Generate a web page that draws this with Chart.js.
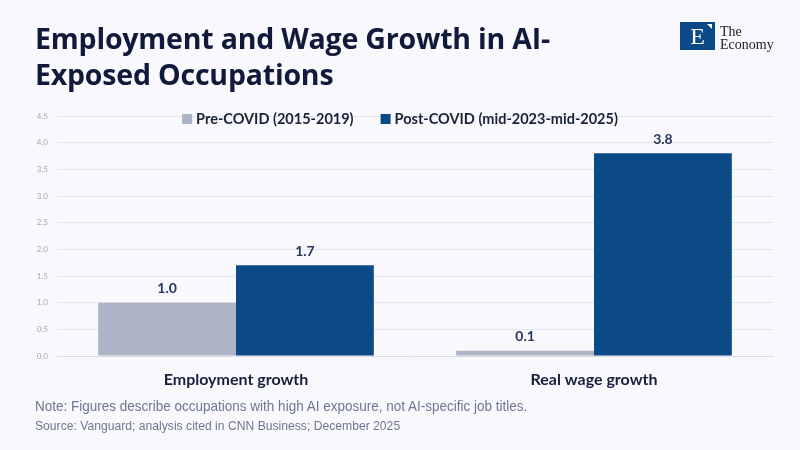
<!DOCTYPE html>
<html>
<head>
<meta charset="utf-8">
<script src="https://cdn.jsdelivr.net/npm/chart.js@4.4.1/dist/chart.umd.min.js"></script>
<style>
  html, body { margin: 0; padding: 0; background: #f8f8fd; }
  #wrap { position: relative; width: 800px; height: 450px; overflow: hidden; background: #f8f8fd; }
  #grafica { position: absolute; left: 0; top: 0; }
  .titulo { position: absolute; left: 35px; top: 20px; font-family: "Open Sans", sans-serif; font-weight: 700;
            font-size: 28.5px; line-height: 36px; color: #111a3a; letter-spacing: -0.2px; }
  .logo { position: absolute; left: 680px; top: 22px; width: 35px; height: 28px; background: #0c4a87; }
  .logo span { position: absolute; left: 0; top: 0; width: 35px; text-align: center; font-family: "Liberation Serif", serif;
               color: #fff; font-size: 24px; line-height: 29px; }
  .logo i { position: absolute; right: 3px; top: 2px; width: 0; height: 0; border-left: 5px solid transparent;
            border-top: 5px solid #fff; }
  .marca { position: absolute; left: 720px; top: 25px; font-family: "Liberation Serif", serif; color: #222;
           font-size: 14px; line-height: 13px; }
  .nota, .fuente { position: absolute; left: 35px; font-family: "Liberation Sans", sans-serif; color: #6e7792;
                   transform: scaleX(0.9); transform-origin: left top; white-space: nowrap; }
  .nota { top: 397px; font-size: 15px; }
  .fuente { top: 418px; font-size: 13.5px; }
</style>
</head>
<body>
<div id="wrap">
  <canvas id="grafica" width="800" height="450"></canvas>
  <div class="titulo">Employment and Wage Growth in AI-<br>Exposed Occupations</div>
  <div class="logo"><span>E</span><i></i></div>
  <div class="marca">The<br>Economy</div>
  <div class="nota">Note: Figures describe occupations with high AI exposure, not AI-specific job titles.</div>
  <div class="fuente">Source: Vanguard; analysis cited in CNN Business; December 2025</div>
</div>
<script>
// datos
const categorias = ['Employment growth', 'Real wage growth'];
const preCovid = [1.0, 0.1];
const postCovid = [1.7, 3.8];
const etiquetasSeries = ['Pre-COVID (2015-2019)', 'Post-COVID (mid-2023-mid-2025)'];
const ticksY = [0, 0.5, 1, 1.5, 2, 2.5, 3, 3.5, 4, 4.5];

// etiquetas de valor encima de las barras
const etiquetasValor = {
    id: 'etiquetasValor',
    afterDatasetsDraw(chart) {
        const ctx = chart.ctx;
        ctx.save();
        ctx.font = 'bold 14px Lato, sans-serif';
        ctx.fillStyle = '#26355a';
        ctx.textAlign = 'center';
        ctx.textBaseline = 'middle';
        chart.data.datasets.forEach((ds, i) => {
            chart.getDatasetMeta(i).data.forEach((bar, j) => {
                ctx.fillText(ds.data[j].toFixed(1), bar.x, bar.y - 14);
            });
        });
        ctx.restore();
    }
};

// leyenda en una fila, dentro del area de la grafica
const leyendaFila = {
    id: 'leyendaFila',
    afterDatasetsDraw(chart) {
        const ctx = chart.ctx;
        const caja = 10, hueco = 4, separacion = 27;
        ctx.save();
        ctx.font = 'bold 14.5px Lato, sans-serif';
        ctx.textBaseline = 'middle';
        ctx.textAlign = 'left';
        const anchos = chart.data.datasets.map(ds => ctx.measureText(ds.label).width);
        const total = anchos.reduce((a, b) => a + b, 0) + chart.data.datasets.length * (caja + hueco) + separacion;
        let x = chart.width / 2 - total / 2;
        const y = chart.chartArea.top + 3;
        chart.data.datasets.forEach((ds, i) => {
            ctx.fillStyle = ds.backgroundColor;
            ctx.fillRect(x, y - caja / 2, caja, caja);
            x += caja + hueco;
            ctx.fillStyle = '#1a2238';
            ctx.fillText(ds.label, x, y);
            x += anchos[i] + separacion;
        });
        ctx.restore();
    }
};

const ctx = document.getElementById('grafica').getContext('2d');
new Chart(ctx, {
    type: 'bar',
    data: {
        labels: categorias,
        datasets: [
            {
                label: etiquetasSeries[0],
                data: preCovid,
                backgroundColor: '#adb4c6',
                categoryPercentage: 0.77,
                barPercentage: 1.0
            },
            {
                label: etiquetasSeries[1],
                data: postCovid,
                backgroundColor: '#0c4a87',
                categoryPercentage: 0.77,
                barPercentage: 1.0
            }
        ]
    },
    options: {
        responsive: false,
        animation: false,
        layout: { padding: { left: 0, right: 27, top: 116, bottom: 54 } },
        plugins: {
            legend: { display: false },
            tooltip: { enabled: false }
        },
        scales: {
            x: {
                grid: { display: false },
                border: { color: '#d8dbe5' },
                ticks: {
                    color: '#16203d',
                    padding: 6,
                    font: { family: 'Lato, sans-serif', weight: 'bold', size: 16 }
                },
                afterFit(scale) { scale.height = 40; }
            },
            y: {
                min: 0,
                max: 4.5,
                afterBuildTicks(scale) { scale.ticks = ticksY.map(v => ({ value: v })); },
                grid: { color: '#e3e5ee', drawTicks: false },
                border: { display: false },
                ticks: {
                    color: '#a0a8be',
                    padding: 9,
                    font: { family: 'Lato, sans-serif', size: 8 },
                    callback: v => v.toFixed(1)
                },
                afterFit(scale) { scale.width = 57; }
            }
        }
    },
    plugins: [leyendaFila, etiquetasValor]
});
</script>
</body>
</html>
